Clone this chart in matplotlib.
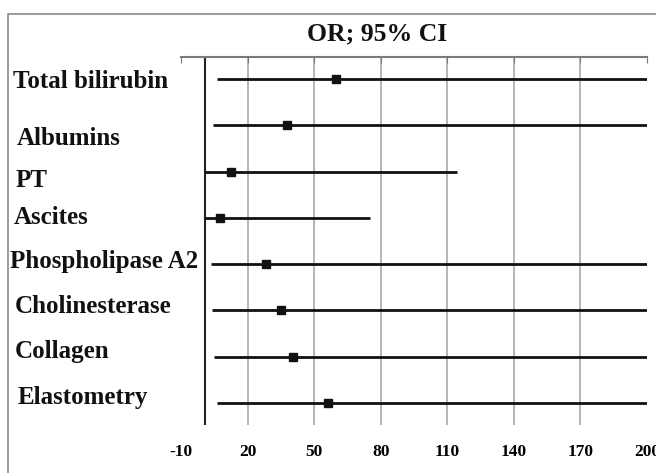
import matplotlib.pyplot as plt
from matplotlib.patches import Rectangle

# forest plot data
markers = ["Total bilirubin", "Albumins", "PT", "Ascites", "Phospholipase A2",
           "Cholinesterase", "Collagen", "Elastometry"]
odds_ratio = [59.8, 37.8, 12.5, 7.6, 28.3, 35.1, 40.5, 56.3]
ci_low = [6.2, 4.4, 1.0, 1.0, 3.5, 4.0, 4.8, 6.1]
ci_high = [200, 200, 114.4, 75.2, 200, 200, 200, 200]
xticks = [-10, 20, 50, 80, 110, 140, 170, 200]

# label nudges in pixels (dx from figure left, dy from row centre)
label_dx = [13, 17, 16, 14, 10, 15, 15, 18]
label_dy = [3, 13, 9, 0, -3, -4, -5, -6]

W, H = 656, 473
fig = plt.figure(figsize=(W / 100, H / 100), dpi=100)
plt.rcParams['font.family'] = ['Liberation Serif', 'DejaVu Serif']

# outer frame (clipped at right/bottom like the reference)
fig.patches.append(Rectangle((8 / W, -0.1), 1.2, 1 - 14 / H + 0.1, transform=fig.transFigure,
                             fill=False, edgecolor='#8a8a8a', linewidth=1.2))

ax = fig.add_axes([181 / W, 1 - 425 / H, (647 - 181) / W, (425 - 57) / H])
ax.set_xlim(-10, 200)
ax.set_ylim(len(markers) - 1 + 0.475, -0.475)

for x in xticks[1:-1]:
    ax.axvline(x, color='#b0b0b0', lw=1.3, zorder=1)
ax.axvline(1, color='#222222', lw=1.5, zorder=2)

for i in range(len(markers)):
    ax.plot([ci_low[i], ci_high[i]], [i, i], color='#111111', lw=2, zorder=3,
            solid_capstyle='butt')
    ax.plot(odds_ratio[i], i, marker='s', color='#111111', markersize=6, zorder=4)

for s in ['left', 'right', 'bottom']:
    ax.spines[s].set_visible(False)
ax.spines['top'].set_color('#7a7a7a')
ax.spines['top'].set_linewidth(1.5)

ax.set_yticks([])
ax.set_xticks(xticks)
ax.set_xticklabels([str(t) for t in xticks], fontsize=12.5, fontweight='bold')
ax.tick_params(axis='x', top=True, bottom=False, labeltop=False, labelbottom=True,
               direction='in', length=4, color='#7a7a7a', pad=14)

# row labels
for i, name in enumerate(markers):
    y_disp = ax.transData.transform((0, i))[1]
    fig.text(label_dx[i] / W, (y_disp - label_dy[i]) / H, name, fontsize=18,
             fontweight='bold', ha='left', va='center', color='#111111')

fig.text(377 / W, 1 - 34 / H, "OR; 95% CI", fontsize=18.5, fontweight='bold',
         ha='center', va='center', color='#111111')

fig.savefig("out.png", dpi=100)
